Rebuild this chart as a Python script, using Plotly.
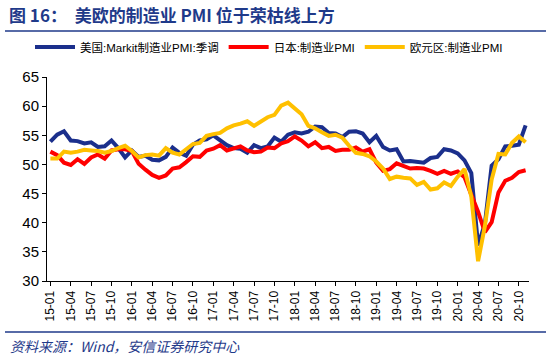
import plotly.graph_objects as go

months = [f"{y:02d}-{m:02d}" for y in range(15, 21) for m in range(1, 13)][:71]
tick_labels = months[::3]

us_pmi = [53.9, 55.1, 55.7, 54.1, 54.0, 53.6, 53.8, 53.0, 53.1, 54.1, 52.8, 51.2,
          52.4, 51.3, 51.5, 50.8, 50.7, 51.3, 52.9, 52.0, 51.5, 53.4, 54.1, 54.3,
          55.0, 54.2, 53.3, 52.8, 52.7, 52.0, 53.3, 52.8, 53.1, 54.6, 53.9, 55.1,
          55.5, 55.3, 55.6, 56.5, 56.4, 55.4, 55.3, 54.7, 55.6, 55.7, 55.3, 53.8,
          54.9, 53.0, 52.4, 52.6, 50.5, 50.6, 50.4, 50.3, 51.1, 51.3, 52.6, 52.4,
          51.9, 50.7, 48.5, 36.1, 39.8, 49.8, 50.9, 53.1, 53.2, 53.4, 56.7]
jp_pmi = [52.2, 51.6, 50.3, 49.9, 50.9, 50.1, 51.2, 51.7, 51.0, 52.4, 52.6, 52.6,
          52.3, 50.1, 49.1, 48.2, 47.7, 48.1, 49.3, 49.5, 50.4, 51.4, 51.3, 52.4,
          52.7, 53.3, 52.4, 52.7, 53.1, 52.4, 52.1, 52.2, 52.9, 52.8, 53.6, 54.0,
          54.8, 54.1, 53.1, 53.8, 52.8, 53.0, 52.3, 52.5, 52.5, 52.9, 52.2, 52.6,
          50.3, 48.9, 49.2, 50.2, 49.8, 49.3, 49.4, 49.3, 48.9, 48.4, 48.9, 48.4,
          48.8, 47.8, 44.8, 41.9, 38.4, 40.1, 45.2, 47.2, 47.7, 48.7, 49.0]
ez_pmi = [51.0, 51.0, 52.2, 52.0, 52.2, 52.5, 52.4, 52.3, 52.0, 52.3, 52.8, 53.2,
          52.3, 51.2, 51.6, 51.7, 51.5, 52.8, 52.0, 51.7, 52.6, 53.5, 53.7, 54.9,
          55.2, 55.4, 56.2, 56.7, 57.0, 57.4, 56.6, 57.4, 58.1, 58.5, 60.1, 60.6,
          59.6, 58.6, 56.6, 56.2, 55.5, 54.9, 55.1, 54.6, 53.2, 52.0, 51.8, 51.4,
          50.5, 49.3, 47.5, 47.9, 47.7, 47.6, 46.5, 47.0, 45.7, 45.9, 46.9, 46.3,
          47.9, 49.2, 44.5, 33.4, 39.4, 47.4, 51.8, 51.7, 53.7, 54.8, 53.8]

series_names = ["美国:Markit制造业PMI:季调", "日本:制造业PMI", "欧元区:制造业PMI"]
series_colors = ["#1B2F8C", "#FF0000", "#FFC000"]

W, H = 546, 360
L, R, T, B = 47, 17, 77, 79
pw = W - L - R
ph = H - T - B

def px(x):
    return (x - L) / pw

def py(y):
    return (H - B - y) / ph

fig = go.Figure()
for name, vals, col in zip(series_names, [us_pmi, jp_pmi, ez_pmi], series_colors):
    fig.add_trace(go.Scatter(x=list(range(len(months))), y=vals, name=name, mode="lines",
                             line=dict(color=col, width=4)))

navy = "#1F3A8A"
fig.update_layout(
    width=W, height=H,
    margin=dict(l=L, r=R, t=T, b=B, autoexpand=False),
    paper_bgcolor="white", plot_bgcolor="white",
    font=dict(family="Liberation Sans, Arial, Noto Sans CJK SC", size=12, color="black"),
    showlegend=True,
    legend=dict(orientation="h", x=px(30), y=py(47), xanchor="left", yanchor="middle",
                font=dict(size=11.5, family="Liberation Sans, Noto Sans CJK SC"),
                itemwidth=40, bgcolor="rgba(0,0,0,0)", tracegroupgap=0),
    xaxis=dict(range=[-0.5, 70.5], tickmode="array",
               tickvals=list(range(0, 71, 3)), ticktext=tick_labels,
               tickangle=-90, showline=True, linecolor="black", linewidth=1,
               ticks="outside", ticklen=4, tickcolor="black", showgrid=False, zeroline=False,
               automargin=False,
               tickfont=dict(size=12, family="Liberation Sans")),
    yaxis=dict(range=[30, 65], dtick=5, showline=True, linecolor="black", linewidth=1,
               ticks="outside", ticklen=4, tickcolor="black", showgrid=False, zeroline=False,
               automargin=False,
               tickfont=dict(size=15, family="Liberation Sans")),
    shapes=[
        dict(type="line", xref="paper", yref="paper", x0=px(5), x1=px(546), y0=py(31), y1=py(31),
             line=dict(color=navy, width=1.5)),
        dict(type="line", xref="paper", yref="paper", x0=px(5), x1=px(546), y0=py(332), y1=py(332),
             line=dict(color=navy, width=1.5)),
    ],
    annotations=[
        dict(xref="paper", yref="paper", x=px(7), y=py(14), xanchor="left", yanchor="middle",
             showarrow=False,
             text="<b>图 16：  美欧的制造业 PMI 位于荣枯线上方</b>",
             font=dict(size=17, color=navy, family="Noto Sans CJK SC")),
        dict(xref="paper", yref="paper", x=px(8), y=py(346), xanchor="left", yanchor="middle",
             showarrow=False,
             text="<i>资料来源：Wind，安信证券研究中心</i>",
             font=dict(size=14, color=navy, family="Noto Sans CJK SC")),
    ],
)

fig.write_html("out.html", config={"displayModeBar": False},
               post_script="document.body.style.margin='0';")
